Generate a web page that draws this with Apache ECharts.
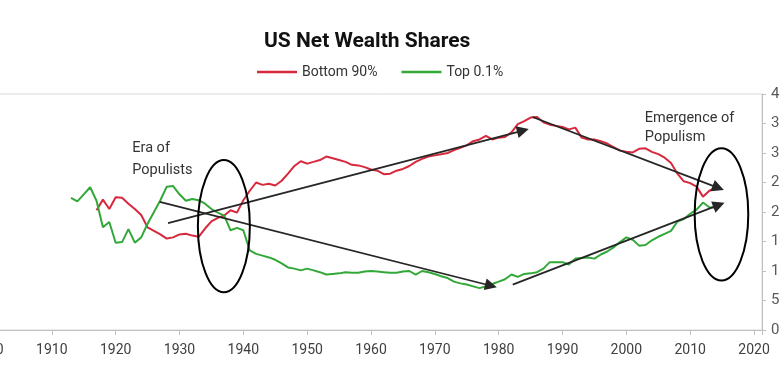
<!DOCTYPE html>
<html><head><meta charset="utf-8">
<script src="https://cdn.jsdelivr.net/npm/echarts@6/dist/echarts.min.js"></script>
<style>html,body{margin:0;padding:0;background:#fff}#c{width:780px;height:377px}</style>
</head><body><div id="c"></div>
<script>
// ---- data (percent of US net wealth) ----
const bottom90Start = 1917;
const bottom90 = [20.3,22.1,20.5,22.5,22.4,21.4,20.5,19.5,17.4,16.8,
16.2,15.5,15.7,16.2,16.3,16.0,15.8,17.2,18.4,19.0,
19.4,20.3,19.9,22.0,23.6,25.0,24.6,24.8,24.5,25.3,
26.5,27.8,28.6,28.2,28.5,28.8,29.4,29.1,28.8,28.5,
28.0,27.9,27.6,27.2,27.0,26.4,26.5,27.0,27.3,27.8,
28.5,29.0,29.4,29.6,29.8,30.0,30.5,30.9,31.3,32.0,
32.3,32.9,32.3,32.6,32.7,33.5,34.9,35.4,36.0,36.1,
35.2,34.8,34.6,34.4,34.0,34.3,32.6,32.3,32.3,32.0,
31.6,31.0,30.4,30.2,30.1,30.7,30.8,30.2,29.8,29.2,
28.3,26.5,25.2,24.9,24.3,22.6,23.6,24.1];

const top01Start = 1913;
const top01 = [22.4,21.8,23.0,24.2,21.9,17.4,18.3,14.8,14.9,17.1,
14.8,15.7,18.0,20.0,22.0,24.3,24.4,23.0,21.9,22.2,
22.0,21.4,20.5,19.9,19.4,16.9,17.3,16.9,13.5,12.9,
12.6,12.3,11.9,11.3,10.6,10.4,10.1,10.4,10.1,9.8,
9.4,9.5,9.6,9.8,9.7,9.7,9.9,10.0,9.9,9.8,
9.7,9.7,9.9,10.0,9.4,10.0,9.8,9.5,9.1,8.8,
8.2,7.9,7.7,7.4,7.1,7.4,7.8,8.2,8.6,9.4,
9.0,9.5,9.6,9.8,10.4,11.5,11.5,11.5,11.1,12.1,
12.2,12.3,12.1,12.8,13.3,14.0,14.9,15.7,15.3,14.3,
14.4,15.2,15.8,16.3,16.8,18.4,18.8,19.7,20.4,21.6,
20.8,20.7];

const seriesNames = ['Bottom 90%', 'Top 0.1%'];
const titleText = 'US Net Wealth Shares';

// annotation arrows: [fromYear, fromValue, toYear, toValue]
const arrows = [
  [1928.2, 18.1, 1983.8, 33.8],
  [1926.9, 21.7, 1978.8, 7.5],
  [1985.3, 36.1, 2014.4, 24.1],
  [1982.2, 7.7, 2014.5, 21.2]
];
// ellipses: [centerYear, centerValue, radiusYears, radiusValue]
const ellipses = [
  [1936.95, 17.6, 4.07, 11.2],
  [2014.9, 19.6, 4.2, 11.2]
];
// notes: [text, leftYear, firstLineValue, lineHeight]
const notes = [
  ['Era of\nPopulists', 1922.6, 30.7, 22],
  ['Emergence of\nPopulism', 2002.9, 35.9, 19.5]
];

function pairs(start, vals){ return vals.map((v,i)=>[start+i, v]); }

const chart = echarts.init(document.getElementById('c'));
const option = {
  animation: false,
  backgroundColor: '#fff',
  title: {
    text: titleText, left: 264, top: 31, padding: 0,
    textStyle: {fontFamily: 'Roboto', fontWeight: 'bold', fontSize: 21, color: '#111'}
  },
  legend: {
    data: seriesNames, left: 257, top: 65, itemGap: 24,
    icon: 'rect', itemWidth: 40, itemHeight: 2.5, padding: 0,
    textStyle: {fontFamily: 'Roboto', fontSize: 14, color: '#333', lineHeight: 14}
  },
  grid: {left: -12, right: 18, top: 94, bottom: 47, show: true, borderColor: '#d9d9d9', borderWidth: 1, containLabel: false, outerBoundsMode: 'none'},
  xAxis: {
    type: 'value', min: 1900, max: 2021.25, interval: 10,
    axisLine: {lineStyle: {color: '#bfbfbf'}},
    axisTick: {length: 5, lineStyle: {color: '#bfbfbf'}},
    axisLabel: {margin: 13, fontFamily: 'Roboto', fontSize: 14, color: '#404040',
      formatter: v => (Math.abs(v % 10) < 1e-6 ? String(v) : '')},
    splitLine: {show: false}
  },
  yAxis: {
    type: 'value', position: 'right', min: 0, max: 40, interval: 5,
    axisLine: {show: true, lineStyle: {color: '#bfbfbf'}},
    axisTick: {show: true, length: 4, lineStyle: {color: '#bfbfbf'}},
    axisLabel: {margin: 9, fontFamily: 'Roboto', fontSize: 15, color: '#595959'},
    splitLine: {show: false}
  },
  series: [
    {name: seriesNames[0], type: 'line', data: pairs(bottom90Start, bottom90), symbol: 'none', showSymbol: false,
     lineStyle: {color: '#d7283c', width: 2}, itemStyle: {color: '#d7283c'}, z: 2},
    {name: seriesNames[1], type: 'line', data: pairs(top01Start, top01), symbol: 'none', showSymbol: false,
     lineStyle: {color: '#32a838', width: 2}, itemStyle: {color: '#32a838'}, z: 3,
     markLine: {
       silent: true, symbol: ['none', 'triangle'], symbolSize: 12, precision: 4,
       label: {show: false}, emphasis: {disabled: true},
       lineStyle: {color: '#262626', width: 1.8, type: 'solid'},
       data: arrows.map(a => [{coord: [a[0], a[1]]}, {coord: [a[2], a[3]]}])
     }}
  ]
};
chart.setOption(option);

const graphics = [];
ellipses.forEach(e => {
  const c = chart.convertToPixel({gridIndex: 0}, [e[0], e[1]]);
  const rxp = chart.convertToPixel({gridIndex: 0}, [e[0] + e[2], e[1]]);
  const ryp = chart.convertToPixel({gridIndex: 0}, [e[0], e[1] + e[3]]);
  graphics.push({type: 'ellipse', z: 10, silent: true,
    shape: {cx: c[0], cy: c[1], rx: Math.abs(rxp[0] - c[0]), ry: Math.abs(c[1] - ryp[1])},
    style: {fill: 'none', stroke: '#000', lineWidth: 2}});
});
notes.forEach(n => {
  const p = chart.convertToPixel({gridIndex: 0}, [n[1], n[2]]);
  graphics.push({type: 'text', z: 10, silent: true, x: p[0], y: p[1] - n[3] / 2,
    style: {text: n[0], fill: '#333', fontFamily: 'Roboto', fontSize: 14.5, lineHeight: n[3], verticalAlign: 'top', align: 'left'}});
});
chart.setOption({graphic: graphics});
</script>
</body></html>
